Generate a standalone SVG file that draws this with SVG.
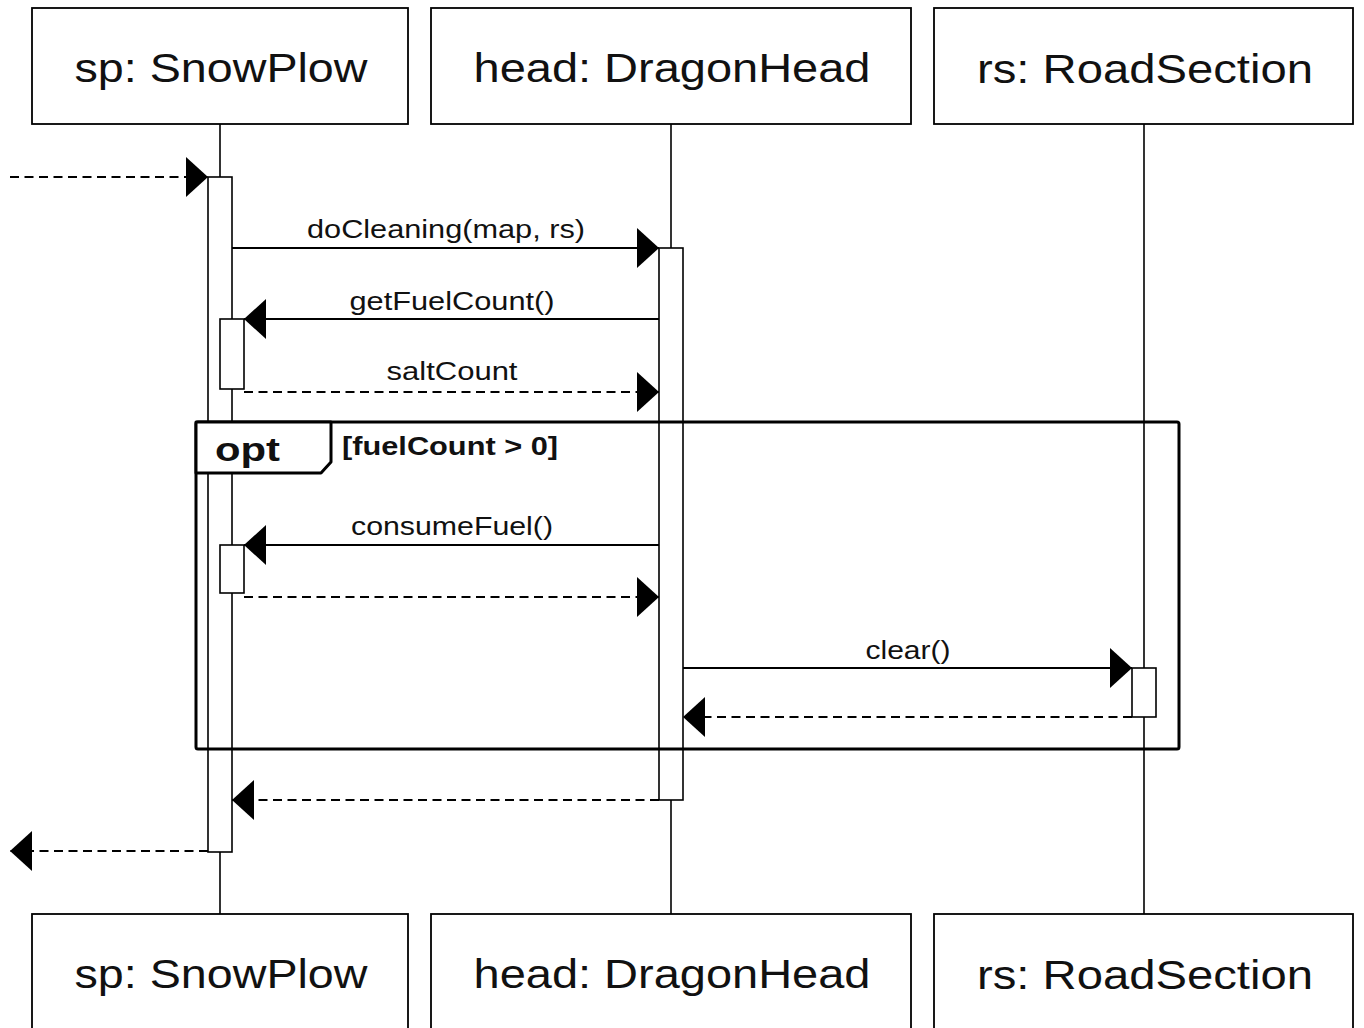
<svg xmlns="http://www.w3.org/2000/svg" width="1364" height="1028" viewBox="0 0 1364 1028">
<style>
.box{fill:#fff;stroke:#000;stroke-width:1.8}
.life{fill:none;stroke:#000;stroke-width:1.6}
.act{fill:#fff;stroke:#000;stroke-width:1.6}
.msg{fill:none;stroke:#000;stroke-width:1.8;marker-end:url(#arrow)}
.ret{fill:none;stroke:#000;stroke-width:1.8;stroke-dasharray:9 5.5;marker-end:url(#arrow)}
.hdr{font-family:"Liberation Sans",Arial,sans-serif;font-size:40px;fill:#111;text-anchor:middle}
.lbl{font-family:"Liberation Sans",Arial,sans-serif;font-size:25px;fill:#111;text-anchor:middle}
.frame{fill:none;stroke:#000;stroke-width:3}
.tab{fill:#fff;stroke:#000;stroke-width:3;stroke-linejoin:round}
.optt{font-family:"Liberation Sans",Arial,sans-serif;font-size:34px;font-weight:bold;fill:#111}
.guard{font-family:"Liberation Sans",Arial,sans-serif;font-size:25px;font-weight:bold;fill:#111}
</style>
<defs>
<marker id="arrow" viewBox="0 0 22 40" markerWidth="22" markerHeight="40" refX="22" refY="20" orient="auto" markerUnits="userSpaceOnUse">
<path d="M0,0 L22,20 L0,40 Z" fill="#000"/>
</marker>
</defs>
<rect width="1364" height="1028" fill="#fff"/>

<g id="lifelines">
<line class="life" x1="220" y1="124" x2="220" y2="914"/>
<line class="life" x1="671" y1="124" x2="671" y2="914"/>
<line class="life" x1="1144" y1="124" x2="1144" y2="914"/>
</g>

<g id="sp">
<rect class="box" x="32" y="8" width="376" height="116"/>
<text class="hdr" x="221" y="82" textLength="293" lengthAdjust="spacingAndGlyphs">sp: SnowPlow</text>
<rect class="box" x="32" y="914" width="376" height="120"/>
<text class="hdr" x="221" y="988" textLength="293" lengthAdjust="spacingAndGlyphs">sp: SnowPlow</text>
<rect class="act" x="208" y="177" width="24" height="675"/>
<rect class="act" x="220" y="319" width="24" height="70"/>
<rect class="act" x="220" y="545" width="24" height="48"/>
</g>

<g id="head">
<rect class="box" x="431" y="8" width="480" height="116"/>
<text class="hdr" x="672" y="82" textLength="397" lengthAdjust="spacingAndGlyphs">head: DragonHead</text>
<rect class="box" x="431" y="914" width="480" height="120"/>
<text class="hdr" x="672" y="988" textLength="397" lengthAdjust="spacingAndGlyphs">head: DragonHead</text>
<rect class="act" x="659" y="248" width="24" height="552"/>
</g>

<g id="rs">
<rect class="box" x="934" y="8" width="419" height="116"/>
<text class="hdr" x="1145" y="83" textLength="336" lengthAdjust="spacingAndGlyphs">rs: RoadSection</text>
<rect class="box" x="934" y="914" width="419" height="120"/>
<text class="hdr" x="1145" y="989" textLength="336" lengthAdjust="spacingAndGlyphs">rs: RoadSection</text>
<rect class="act" x="1132" y="668" width="24" height="49"/>
</g>

<g id="opt">
<rect class="frame" x="196" y="422" width="983" height="327" rx="2"/>
<path class="tab" d="M196,422 H331 V462 L321,473 H196 Z"/>
<text class="optt" x="215" y="461" textLength="65" lengthAdjust="spacingAndGlyphs">opt</text>
<text class="guard" x="342" y="455" textLength="216" lengthAdjust="spacingAndGlyphs">[fuelCount &gt; 0]</text>
</g>

<g id="connectors">
<path class="ret" d="M10,177 H208"/>
<path class="msg" d="M232,248 H659"/>
<text class="lbl" x="446" y="238" textLength="278" lengthAdjust="spacingAndGlyphs">doCleaning(map, rs)</text>
<path class="msg" d="M659,319 H244"/>
<text class="lbl" x="452" y="310" textLength="205" lengthAdjust="spacingAndGlyphs">getFuelCount()</text>
<path class="ret" d="M244,392 H659"/>
<text class="lbl" x="452" y="380" textLength="131" lengthAdjust="spacingAndGlyphs">saltCount</text>
<path class="msg" d="M659,545 H244"/>
<text class="lbl" x="452" y="535" textLength="202" lengthAdjust="spacingAndGlyphs">consumeFuel()</text>
<path class="ret" d="M244,597 H659"/>
<path class="msg" d="M683,668 H1132"/>
<text class="lbl" x="908" y="659" textLength="85" lengthAdjust="spacingAndGlyphs">clear()</text>
<path class="ret" d="M1132,717 H683"/>
<path class="ret" d="M659,800 H232"/>
<path class="ret" d="M208,851 H10"/>
</g>
</svg>
